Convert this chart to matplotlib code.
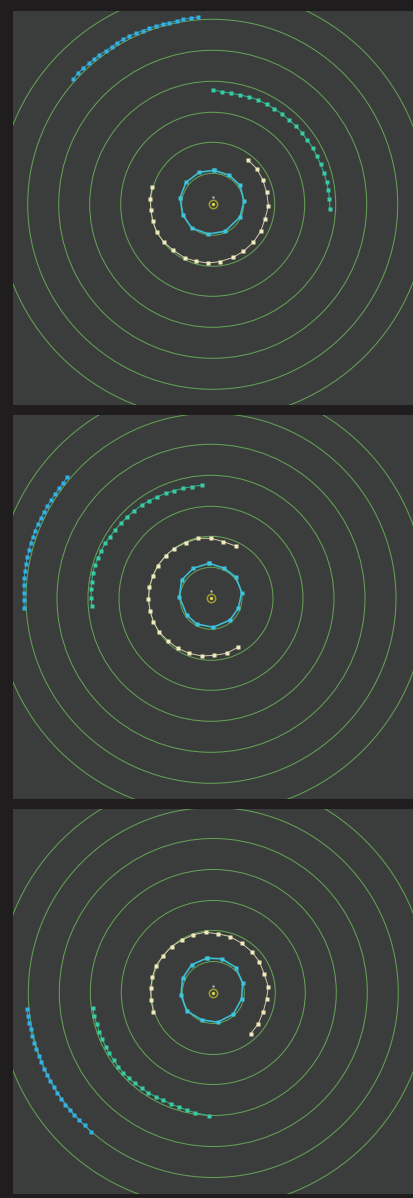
import numpy as np
import matplotlib.pyplot as plt
from matplotlib.patches import Circle

# orbit guide circles (same for every frame)
guide_radii = [31, 62, 92, 123, 154, 185, 215]

# frame 1 -- trail points relative to the sun (x right, y up)
p1_inner_x = [1.3, 16.7, 27.3, 31.3, 27.3, 12.3, -4.3, -21, -30, -32.7, -26.7, -13.3, 1.3]
p1_inner_y = [34, 29, 19, 3, -12.7, -27, -29.7, -23.7, -10.3, 6.3, 22, 32, 34]
p1_yellow_x = [35, 44, 50, 54, 55.7, 52.3, 48, 40.7, 30.7, 20.7, 7.3, -4.3, -16.7, -27.7, -39.3,
               -48.7, -56, -60, -61.7, -62.7, -60.3]
p1_yellow_y = [44.7, 35.7, 24.7, 12, -1.3, -14.7, -27, -38, -47, -53, -57.3, -58.7, -57, -53.7,
               -46, -38, -28, -17, -6, 5.7, 17.3]
p1_teal_x = [0, 9, 18.3, 27.3, 36.7, 45.7, 54, 61.3, 69, 76.7, 83.3, 89, 94.7, 100, 104, 108,
             111.3, 114, 115.7, 116.7, 117.3]
p1_teal_y = [114.3, 112.7, 111, 109.3, 107.3, 104.3, 100, 95.7, 90.7, 84, 78.3, 71.7, 64, 56.7,
             48.3, 40, 31, 22.3, 14, 5.7, -4.3]
p1_blue_x = [-139.4, -134.4, -129.4, -123.7, -118.7, -113.4, -107, -101, -95.4, -89.4, -83.4,
             -76.7, -70, -63.4, -56.7, -50, -43.4, -36, -29.4, -22, -15]
p1_blue_y = [125.3, 131.6, 136, 141, 145.3, 149.3, 153.6, 157.6, 161.6, 165, 168.3, 171, 173.6,
             176, 178.3, 180, 181.6, 183.3, 185, 186, 187]

# frame 2
p2_inner_x = [-2, 13.3, 25, 30.7, 27.3, 19, 2.3, -14.3, -24.3, -31.7, -29.3, -17.7, -2]
p2_inner_y = [35, 30, 21, 5.7, -10, -21.7, -29, -25.7, -16.7, 1.7, 18.3, 30, 35]
p2_yellow_x = [24.7, 12.3, 0, -12.7, -25.3, -37, -45.3, -53.3, -58.3, -61.7, -62.7, -61, -57.7,
               -51.7, -43.3, -33.3, -22, -9.3, 3.3, 15.7, 26.7]
p2_yellow_y = [52.3, 56.7, 60, 60, 55.7, 49.7, 42.7, 32.7, 22.3, 11, -1, -12.3, -23.3, -34,
               -42.3, -50, -55, -57.7, -57, -55, -49]
p2_teal_x = [-9.3, -18.7, -27.7, -36.7, -45.3, -53.7, -61.7, -69.3, -76.7, -83.7, -90, -96, -101,
             -106, -110, -113.3, -116, -118.3, -119.3, -120, -119.7, -119.3]
p2_teal_y = [113.3, 111.6, 110, 107.6, 105, 101.6, 97.6, 93.3, 87.6, 81.6, 75, 68.3, 61.6, 55,
             47.3, 40, 33.3, 25, 16.6, 9, 0.6, -7.4]
p2_blue_x = [-143.7, -147.7, -151.7, -156, -160, -163.7, -167, -170.3, -173.3, -176, -178.3,
             -180.3, -182, -183.7, -185, -186, -186.7, -187, -187, -187, -186.7]
p2_blue_y = [121.6, 115.6, 110, 104.3, 98.3, 92.3, 86, 80, 74, 67.6, 61.6, 55, 48.3, 41, 34.3,
             27.6, 20, 13.3, 5.6, -1.7, -9.4]

# frame 3
p3_inner_x = [-6.7, 8.3, 22.7, 29.3, 28.3, 20, 4.3, -11.7, -26.7, -32.3, -30.7, -21.7, -6.7]
p3_inner_y = [34.3, 33.7, 25, 9.3, -6.3, -21.7, -29.7, -27.3, -18.3, -2.3, 14.3, 27.7, 34.3]
p3_yellow_x = [37.3, 45, 50, 53.3, 55, 51, 46, 38.3, 28.3, 16.7, 4.3, -7.7, -20, -31, -41.7, -50,
               -57.3, -61, -62.7, -62.3, -60]
p3_yellow_y = [-41.3, -31.3, -19, -6.3, 6, 18.3, 31, 41, 49.3, 56, 58.7, 60.3, 57.7, 52.7, 46,
               37, 27, 15.3, 4.3, -7.3, -19]
p3_teal_x = [-120.6, -119, -116.6, -114, -111, -107.6, -104, -99.6, -95, -90, -84.3, -78.3,
             -71.6, -65, -57.6, -50, -42.3, -34.3, -26.6, -18.3, -4]
p3_teal_y = [-15.8, -23.5, -31.5, -39.2, -46.8, -54.2, -60.8, -67.5, -74.2, -80.2, -85.8, -90.8,
             -95.8, -100.2, -104.2, -107.8, -111.5, -114.8, -117.5, -120.2, -123.2]
p3_blue_x = [-186.6, -185.6, -184.3, -182.6, -181, -179, -177, -174.6, -172, -169.3, -166.3, -163,
             -159.6, -156, -152, -148, -143.6, -139, -134, -128.6, -122.6]
p3_blue_y = [-16.5, -23.5, -30.2, -36.8, -43.5, -50.2, -56.8, -63.2, -69.8, -76.2, -82.5, -88.8,
             -94.8, -100.8, -106.5, -112.2, -117.5, -122.8, -127.8, -132.8, -139.2]

W, H = 413, 1198
fig = plt.figure(figsize=(W / 100, H / 100), dpi=100, facecolor='#1f1d1d')

# panel boxes in pixels: left, top, right, bottom, sun x, sun y
panels = [
    (13, 11, 413, 405, 212.7, 204.3),
    (13, 415, 413, 799, 211.0, 598.3),
    (13, 809, 413, 1194, 213.3, 992.5),
]
frames = [
    (p1_inner_x, p1_inner_y, p1_yellow_x, p1_yellow_y, p1_teal_x, p1_teal_y, p1_blue_x, p1_blue_y),
    (p2_inner_x, p2_inner_y, p2_yellow_x, p2_yellow_y, p2_teal_x, p2_teal_y, p2_blue_x, p2_blue_y),
    (p3_inner_x, p3_inner_y, p3_yellow_x, p3_yellow_y, p3_teal_x, p3_teal_y, p3_blue_x, p3_blue_y),
]

for (l, t, r, b, sx, sy), fr in zip(panels, frames):
    ax = fig.add_axes([l / W, (H - b) / H, (r - l) / W, (b - t) / H])
    ax.set_facecolor('#3a3d3c')
    ax.set_xlim(l - sx, r - sx)
    ax.set_ylim(sy - b, sy - t)
    ax.set_aspect('equal', adjustable='box')
    ax.set_xticks([])
    ax.set_yticks([])
    for sp in ax.spines.values():
        sp.set_visible(False)

    for rad in guide_radii:
        ax.add_patch(Circle((0, 0), rad, fill=False, ec='#64a055', lw=0.75))

    ix, iy, yx, yy, tx, ty, bx, by = fr
    ax.plot(ix, iy, '-', color='#3bbdd4', lw=1.2)
    ax.plot(ix, iy, 's', color='#3ec4dc', ms=2.4, mec='none')
    ax.plot(yx, yy, '-', color='#cfcda8', lw=0.7)
    ax.plot(yx, yy, 's', color='#f0eabc', ms=2.2, mec='none')
    ax.plot(tx, ty, '-', color='#30b893', lw=0.7)
    ax.plot(tx, ty, 's', color='#38cca2', ms=2.3, mec='none')
    ax.plot(bx, by, '-', color='#2aa0d0', lw=0.7)
    ax.plot(bx, by, 's', color='#33b0e4', ms=2.4, mec='none')

    # sun and its small companion marker
    ax.plot(0, 0, 'o', ms=6, mfc='none', mec='#a09c34', mew=1.1)
    ax.plot(0, 0, 'o', ms=2.4, color='#dcd44a', mec='none')
    ax.plot(0, 7, 's', ms=2.0, color='#c3c6d0', mec='none')

fig.savefig('out.png', dpi=100, facecolor=fig.get_facecolor())
